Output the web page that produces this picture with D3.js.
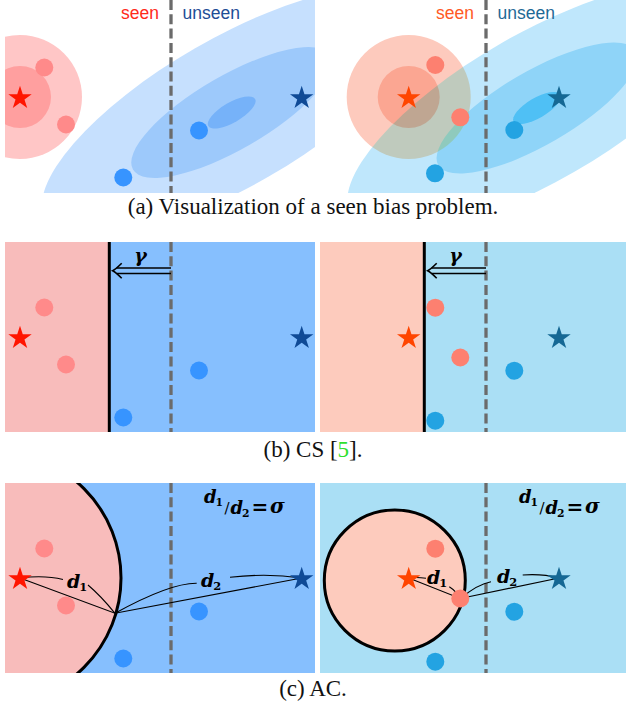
<!DOCTYPE html>
<html><head><meta charset="utf-8">
<script src="https://cdn.jsdelivr.net/npm/d3@7"></script>
<style>body{margin:0;background:#fff}svg{display:block}</style>
</head><body>
<svg id="fig" width="626" height="704"></svg>
<script>
// ---------------- data (panel units) ----------------
const classBoundary = 166;            // dashed seen / unseen border
const csBoundary = 104.3;             // CS shifted decision boundary
const gammaArrow = [166, 107.7, 28.8];// from x, to x, at y
const seenProtoL = [15, 95];
const unseenProtoL = [296.7, 95];
const seenSamplesL = [[39.3, 65.5], [61, 122.5]];
const unseenSamplesL = [[194, 128.5], [118.3, 175.5]];
const seenProtoR = [88.7, 95];
const unseenProtoR = [239, 95];
const seenSamplesR = [[115.3, 65.7], [140.3, 115.5]];
const unseenSamplesR = [[194.3, 128.7], [115.3, 178.7]];
const seenSamplesRa = [[115.3, 63], [140.3, 115.3]];
const unseenSamplesRa = [[194.3, 128], [115, 171.3]];
const seenRadii = [62, 31];
const unseenCenterL = [226.7, 110.5];
const unseenCenterR = [217, 106];
const unseenAxes = [[215, 74], [114, 37], [27, 10]];
const unseenAngle = -30;
const acCircleL = [-10.4, 95, 126.4];
const acCircleR = [74.8, 97.5, 70.5];
const acPointL = [110, 130.3];
const acPointR = [140.3, 115.5];
const legendLabels = ["seen", "unseen"];
const captionA = "(a) Visualization of a seen bias problem.";
const captionB = ["(b) CS [", "5", "]."];
const captionC = "(c) AC.";

// ---------------- styles ----------------
const pal = {
  L: {star1:"#ff1500", dot1:"#ff8a8a", dot2:"#3794ff", star2:"#0f4a96", bg1:"#f8bcbb", bg2:"#86bffe",
      circ:["#ffc6c6","#ff9f9f"], ell:["#c6e0fe","#9dc9fb","#76b2f9"], t1:"#ff2a1a", t2:"#1e4d96"},
  R: {star1:"#ff4500", dot1:"#fd8070", dot2:"#23a3e2", star2:"#156894", bg1:"#fdcbbd", bg2:"#aadff5",
      circ:["#fdcabd","#fba692"], ell:["#bfe7fc","#8fd4f8","#4fc0f5"], t1:"#ff5a26", t2:"#1f6a96"}
};
const sides = {L:{x0:5, w:310}, R:{x0:320, w:306}};
const rows = {a:{d:[-2,191], r:[0,193]}, b:{d:[0,190], r:[242,432]}, c:{d:[0,190], r:[483,673]}};

const svg = d3.select("#fig");
const defs = svg.append("defs");
const star = d3.symbol().type(d3.symbolStar).size(170);
const mathFont = "'DejaVu Serif',serif";

function panel(rowKey, sideKey) {
  const S = sides[sideKey], R = rows[rowKey];
  const x = d3.scaleLinear().domain([0, S.w]).range([S.x0, S.x0 + S.w]);
  const y = d3.scaleLinear().domain(R.d).range(R.r);
  const id = "clip" + rowKey + sideKey;
  defs.append("clipPath").attr("id", id).append("rect")
    .attr("x", S.x0).attr("y", R.r[0]).attr("width", S.w).attr("height", R.r[1] - R.r[0]);
  const g = svg.append("g").attr("clip-path", `url(#${id})`);
  return {x, y, g, S, R, c: pal[sideKey]};
}
const k = (x) => x(1) - x(0);

function dashed(P) {
  P.g.append("line").attr("x1", P.x(classBoundary)).attr("x2", P.x(classBoundary))
    .attr("y1", P.R.r[0]).attr("y2", P.R.r[1])
    .attr("stroke", "#6b6b6b").attr("stroke-width", 3.3).attr("stroke-dasharray", "10,4.3");
}
function points(P, seen, unseen, pS, pU) {
  P.g.selectAll(null).data(seen).join("circle")
    .attr("cx", d => P.x(d[0])).attr("cy", d => P.y(d[1])).attr("r", 9).attr("fill", P.c.dot1);
  P.g.selectAll(null).data(unseen).join("circle")
    .attr("cx", d => P.x(d[0])).attr("cy", d => P.y(d[1])).attr("r", 9).attr("fill", P.c.dot2);
  P.g.selectAll(null).data([[pS, P.c.star1], [pU, P.c.star2]]).join("path")
    .attr("d", star).attr("transform", d => `translate(${P.x(d[0][0])},${P.y(d[0][1]) + 1})`)
    .attr("fill", d => d[1]);
}
function mathD(sel, x, y, idx, size) {
  const t = sel.append("text").attr("x", x).attr("y", y)
    .attr("font-family", mathFont).attr("font-weight", "bold").attr("font-style", "italic").attr("font-size", size);
  t.append("tspan").text("d");
  t.append("tspan").attr("dx", -1).attr("dy", 3).attr("font-size", size * 0.6).attr("font-style", "normal").text(idx);
  return t;
}

// ---------------- (a) ----------------
[["L", seenProtoL, unseenProtoL, seenSamplesL, unseenSamplesL, unseenCenterL],
 ["R", seenProtoR, unseenProtoR, seenSamplesRa, unseenSamplesRa, unseenCenterR]].forEach(([s, pS, pU, sS, sU, uc]) => {
  const P = panel("a", s);
  P.g.selectAll(null).data(unseenAxes).join("ellipse")
    .attr("transform", `translate(${P.x(uc[0])},${P.y(uc[1])}) rotate(${unseenAngle})`)
    .attr("rx", d => d[0] * k(P.x)).attr("ry", d => d[1] * k(P.x))
    .attr("fill", (d, i) => P.c.ell[i]);
  P.g.selectAll(null).data(seenRadii).join("circle")
    .attr("cx", P.x(pS[0])).attr("cy", P.y(pS[1])).attr("r", d => d * k(P.x))
    .attr("fill", (d, i) => P.c.circ[i]).style("mix-blend-mode", "darken");
  dashed(P);
  points(P, sS, sU, pS, pU);
  svg.append("text").attr("x", P.x(classBoundary - 12)).attr("y", P.y(17))
    .attr("text-anchor", "end").attr("font-family", "'Liberation Sans',Arial,sans-serif")
    .attr("font-size", 17.5).attr("fill", P.c.t1).text(legendLabels[0]);
  svg.append("text").attr("x", P.x(classBoundary + 11.5)).attr("y", P.y(17))
    .attr("font-family", "'Liberation Sans',Arial,sans-serif")
    .attr("font-size", 17.5).attr("fill", P.c.t2).text(legendLabels[1]);
});

// ---------------- (b) ----------------
[["L", seenProtoL, unseenProtoL, seenSamplesL, unseenSamplesL],
 ["R", seenProtoR, unseenProtoR, seenSamplesR, unseenSamplesR]].forEach(([s, pS, pU, sS, sU]) => {
  const P = panel("b", s);
  P.g.append("rect").attr("x", P.x(0)).attr("y", P.y(0)).attr("width", P.x(csBoundary) - P.x(0))
    .attr("height", P.y(190) - P.y(0)).attr("fill", P.c.bg1);
  P.g.append("rect").attr("x", P.x(csBoundary)).attr("y", P.y(0)).attr("width", P.x(P.S.w) - P.x(csBoundary))
    .attr("height", P.y(190) - P.y(0)).attr("fill", P.c.bg2);
  dashed(P);
  P.g.append("line").attr("x1", P.x(csBoundary)).attr("x2", P.x(csBoundary))
    .attr("y1", P.y(0)).attr("y2", P.y(190)).attr("stroke", "#000").attr("stroke-width", 3);
  const [ax0, ax1, ay] = gammaArrow;
  [-2.8, 2.8].forEach(o => P.g.append("line")
    .attr("x1", P.x(ax0)).attr("x2", P.x(ax1) + 4).attr("y1", P.y(ay) + o).attr("y2", P.y(ay) + o)
    .attr("stroke", "#000").attr("stroke-width", 1.5));
  const tx = P.x(ax1), ty = P.y(ay);
  P.g.append("path")
    .attr("d", `M${tx + 9},${ty - 7.5} Q${tx + 3},${ty - 1.5} ${tx},${ty} Q${tx + 3},${ty + 1.5} ${tx + 9},${ty + 7.5}`)
    .attr("fill", "none").attr("stroke", "#000").attr("stroke-width", 1.6);
  P.g.append("text").attr("x", P.x(135.5)).attr("y", P.y(19.5)).attr("text-anchor", "middle")
    .attr("font-family", mathFont).attr("font-weight", "bold").attr("font-style", "italic")
    .attr("font-size", 19).text("γ");
  points(P, sS, sU, pS, pU);
});

// ---------------- (c) ----------------
const leaderSets = {
  L: [[[15,95],[40,92],[58,96.5]], [[83,102],[96,113],[110,130.3]],
      [[110,130.3],[165,100],[191.7,100.3]], [[225,94.3],[262,90],[296.7,95]]],
  R: [[[88.7,95],[97,94],[106,95.3]], [[129.3,103.7],[136,108],[140.3,115.5]],
      [[140.3,115.5],[158,101],[171,98.7]], [[202.7,92],[222,90.5],[239,95]]]
};
const dLabels = {L: [[62,105],[196,104]], R: [[107,101],[177,100]]};
[["L", seenProtoL, unseenProtoL, seenSamplesL, unseenSamplesL, acCircleL, acPointL],
 ["R", seenProtoR, unseenProtoR, seenSamplesR, unseenSamplesR, acCircleR, acPointR]].forEach(([s, pS, pU, sS, sU, circ, pt]) => {
  const P = panel("c", s);
  P.g.append("rect").attr("x", P.x(0)).attr("y", P.y(0)).attr("width", P.x(P.S.w) - P.x(0))
    .attr("height", P.y(190) - P.y(0)).attr("fill", P.c.bg2);
  P.g.append("circle").attr("cx", P.x(circ[0])).attr("cy", P.y(circ[1])).attr("r", circ[2] * k(P.x))
    .attr("fill", P.c.bg1).attr("stroke", "#000").attr("stroke-width", 3);
  dashed(P);
  P.g.append("path").attr("d", d3.line()([[P.x(pS[0]), P.y(pS[1])], [P.x(pt[0]), P.y(pt[1])], [P.x(pU[0]), P.y(pU[1])]]))
    .attr("fill", "none").attr("stroke", "#000").attr("stroke-width", 1.1);
  P.g.selectAll(null).data(leaderSets[s]).join("path")
    .attr("d", d => `M${P.x(d[0][0])},${P.y(d[0][1])} Q${P.x(d[1][0])},${P.y(d[1][1])} ${P.x(d[2][0])},${P.y(d[2][1])}`)
    .attr("fill", "none").attr("stroke", "#000").attr("stroke-width", 1.1);
  points(P, sS, sU, pS, pU);
  dLabels[s].forEach((p, i) => mathD(P.g, P.x(p[0]), P.y(p[1]), String(i + 1), 19));
  // d1/d2 = sigma (nicefrac style)
  mathD(P.g, P.x(199), P.y(20), "1", 18);
  P.g.append("text").attr("x", P.x(219.5)).attr("y", P.y(30)).attr("font-family", mathFont)
    .attr("font-size", 15).text("/");
  mathD(P.g, P.x(225.5), P.y(31), "2", 18);
  P.g.append("text").attr("x", P.x(246.5)).attr("y", P.y(31)).attr("font-family", mathFont)
    .attr("font-weight", "bold").attr("font-size", 20).text("=");
  P.g.append("text").attr("x", P.x(265)).attr("y", P.y(30)).attr("font-family", mathFont)
    .attr("font-weight", "bold").attr("font-style", "italic").attr("font-size", 20).text("σ");
});

// ---------------- captions ----------------
const cap = (y) => svg.append("text").attr("x", 313).attr("y", y).attr("text-anchor", "middle")
  .attr("font-family", "'Liberation Serif','Times New Roman',serif").attr("font-size", 23).attr("fill", "#111");
cap(214).text(captionA);
const cb = cap(457);
cb.append("tspan").text(captionB[0]);
cb.append("tspan").attr("fill", "#2ee02e").text(captionB[1]);
cb.append("tspan").text(captionB[2]);
cap(696).text(captionC);
</script>
</body></html>
